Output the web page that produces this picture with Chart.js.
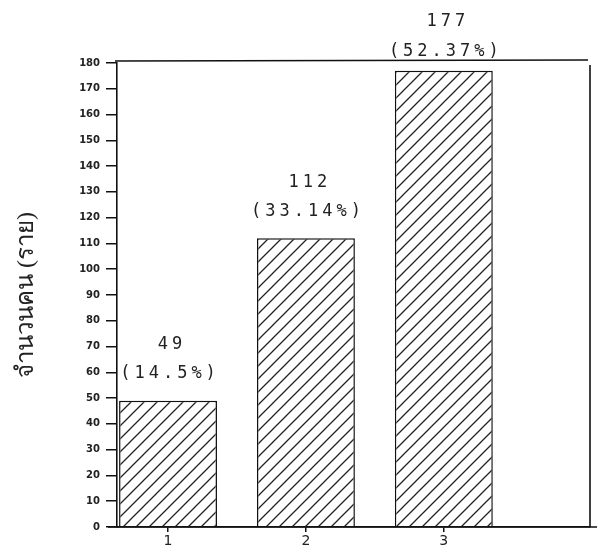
<!DOCTYPE html>
<html>
<head>
<meta charset="utf-8">
<script src="https://cdn.jsdelivr.net/npm/chart.js@4.4.0/dist/chart.umd.min.js"></script>
<style>
  html, body { margin: 0; padding: 0; background: #fff; }
  #wrap { width: 597px; height: 556px; position: relative; }
</style>
</head>
<body>
<div id="wrap"><canvas id="chart"></canvas></div>
<script>
// data
var categories = [1, 2, 3];
var counts = [49, 112, 177];
var percents = ['14.5%', '33.14%', '52.37%'];
var yTitle = 'จำนวนคน (ราย)';

function hatch() {
  var n = 13;
  var c = document.createElement('canvas');
  c.width = n; c.height = n;
  var g = c.getContext('2d');
  g.fillStyle = '#fff'; g.fillRect(0, 0, n, n);
  g.strokeStyle = '#222'; g.lineWidth = 1.3;
  g.beginPath();
  g.moveTo(0, n); g.lineTo(n, 0);
  g.moveTo(-n / 2, n / 2); g.lineTo(n / 2, -n / 2);
  g.moveTo(n / 2, n * 1.5); g.lineTo(n * 1.5, n / 2);
  g.stroke();
  return g.createPattern(c, 'repeat');
}

// box lines round the plot + labels over the bars
var extras = {
  id: 'extras',
  afterDraw: function(chart) {
    var ctx = chart.ctx, a = chart.chartArea;
    ctx.save();
    ctx.strokeStyle = '#111'; ctx.lineWidth = 1.6;
    ctx.beginPath();
    ctx.moveTo(a.left - 2, a.top - 2); ctx.lineTo(a.right - 2, a.top - 3);
    ctx.moveTo(a.right, a.top + 2); ctx.lineTo(a.right, a.bottom);
    ctx.moveTo(a.left - 9, a.bottom); ctx.lineTo(chart.width, a.bottom);
    ctx.stroke();
    var meta = chart.getDatasetMeta(0);
    ctx.fillStyle = '#222';
    ctx.font = '17px "DejaVu Sans Mono"';
    ctx.letterSpacing = '4px';
    ctx.textAlign = 'center'; ctx.textBaseline = 'middle';
    for (var i = 0; i < meta.data.length; i++) {
      var b = meta.data[i];
      ctx.fillText(String(counts[i]), b.x + 4, Math.max(b.y - 56, 22));
      ctx.fillText('(' + percents[i] + ')', b.x + 2, Math.max(b.y - 27, 52));
    }
    ctx.restore();
  }
};

new Chart(document.getElementById('chart'), {
  type: 'bar',
  data: {
    datasets: [{
      data: categories.map(function(c, i) { return { x: c, y: counts[i] }; }),
      backgroundColor: hatch(),
      borderColor: '#111',
      borderWidth: 1.5,
      barPercentage: 0.71,
      categoryPercentage: 1
    }]
  },
  options: {
    responsive: true,
    maintainAspectRatio: false,
    animation: false,
    layout: { padding: { top: 63, right: 7, left: 0, bottom: 0 } },
    plugins: { legend: { display: false }, tooltip: { enabled: false } },
    scales: {
      x: {
        type: 'linear',
        offset: false,
        min: 0.63, max: 4.06,
        afterBuildTicks: function(s) { s.ticks = categories.map(function(c) { return { value: c }; }); },
        afterFit: function(s) { s.height = 29; },
        grid: { offset: false, drawOnChartArea: false, tickLength: 5, color: '#111', lineWidth: 1.5 },
        border: { color: '#111', width: 1.6 },
        ticks: { color: '#222', font: { family: 'DejaVu Sans', size: 14 }, padding: 1 }
      },
      y: {
        min: 0, max: 180,
        afterFit: function(s) { s.width = 117; },
        grid: { drawOnChartArea: false, tickLength: 11, color: '#111', lineWidth: 1.5 },
        border: { color: '#111', width: 1.6 },
        ticks: { stepSize: 10, color: '#222', font: { family: 'DejaVu Sans', size: 10, weight: 'bold' }, padding: 6 },
        title: { display: true, text: yTitle, color: '#222', font: { family: 'serif', size: 24 }, padding: { top: 12, bottom: 0 } }
      }
    }
  },
  plugins: [extras]
});
</script>
</body>
</html>
